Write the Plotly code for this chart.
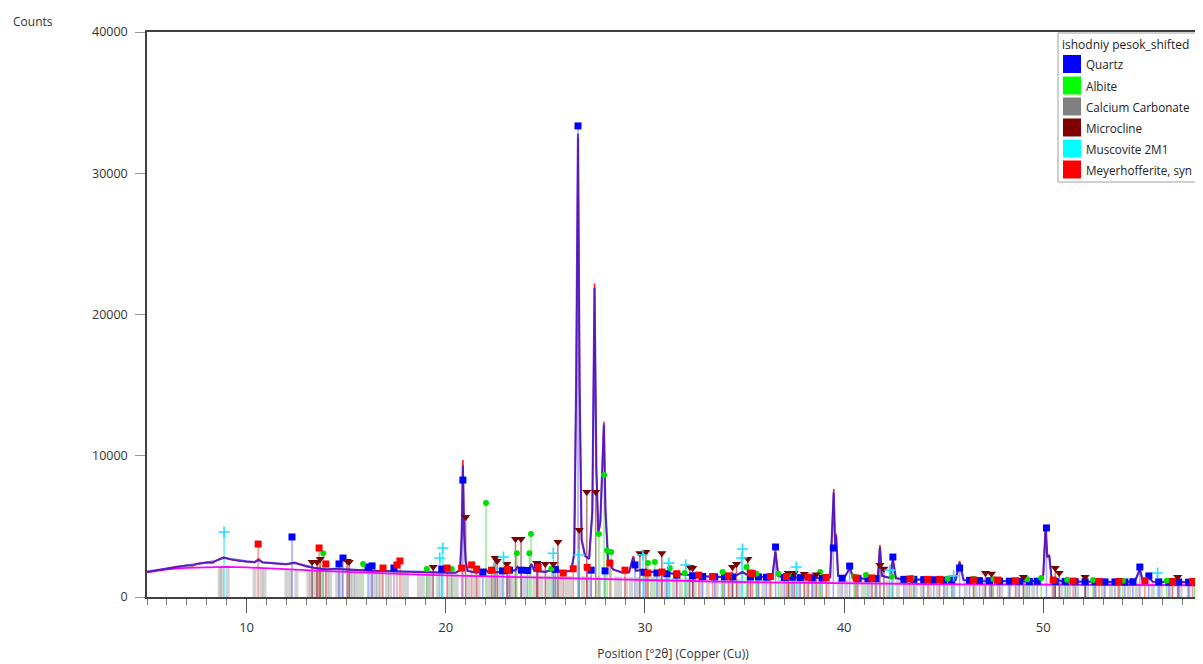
import plotly.graph_objects as go

# ---------------- data ----------------
# measured pattern: (2theta, observed counts, calculated counts)
pattern = [
    (5.0, 1750, 1800), (5.5, 1900, 1900), (6.0, 2000, 2020), (6.5, 2150, 2130),
    (7.0, 2250, 2230), (7.3, 2200, 2280), (7.5, 2350, 2330), (8.0, 2450, 2430),
    (8.3, 2400, 2500), (8.5, 2600, 2580), (8.85, 2800, 2780), (9.2, 2650, 2680),
    (9.6, 2550, 2580), (10.0, 2500, 2520), (10.4, 2450, 2470), (10.6, 2700, 2600),
    (10.8, 2450, 2460), (11.2, 2400, 2420), (11.6, 2350, 2370), (12.0, 2300, 2330),
    (12.4, 2450, 2420), (12.7, 2300, 2320), (13.0, 2150, 2180), (13.4, 2050, 2060),
    (13.7, 2000, 2010), (14.0, 1950, 1960), (14.4, 2000, 1990), (14.8, 1950, 1960),
    (15.2, 1900, 1910), (15.6, 1900, 1890), (16.0, 1880, 1870), (16.5, 1850, 1850),
    (17.0, 1820, 1830), (17.5, 1800, 1810), (18.0, 1780, 1780), (18.5, 1760, 1760),
    (19.0, 1740, 1740), (19.5, 1720, 1720), (20.0, 1700, 1700), (20.5, 1720, 1720),
    (20.72, 1900, 1900), (20.8, 4500, 4300), (20.86, 9700, 9300), (20.92, 4800, 4600),
    (21.0, 2600, 2500), (21.1, 1850, 1850), (21.5, 1720, 1720), (21.9, 1800, 1780),
    (22.02, 1950, 1900), (22.15, 1720, 1720), (22.6, 1760, 1760), (23.0, 1800, 1790),
    (23.5, 1900, 1880), (23.6, 2150, 2100), (23.75, 1950, 1950), (24.0, 1850, 1850),
    (24.2, 2050, 2000), (24.3, 2350, 2300), (24.45, 1850, 1850), (25.0, 1780, 1780),
    (25.6, 2050, 2000), (25.75, 1750, 1750), (26.3, 1850, 1850), (26.45, 3000, 3100),
    (26.55, 15000, 15500), (26.64, 32500, 32800), (26.72, 15000, 15200), (26.82, 4000, 4100),
    (27.0, 2900, 2900), (27.2, 2700, 2700), (27.36, 6000, 6100), (27.47, 22200, 21900),
    (27.56, 9000, 9200), (27.66, 4500, 4600), (27.76, 5200, 5300), (27.86, 9000, 9200),
    (27.94, 12400, 12200), (28.02, 6000, 6200), (28.15, 2600, 2600), (28.4, 1950, 1950),
    (28.8, 1750, 1760), (29.2, 1750, 1750), (29.42, 2900, 2800), (29.55, 1850, 1850),
    (29.9, 1950, 1900), (30.2, 1800, 1800), (30.6, 1750, 1740), (31.0, 1700, 1700),
    (31.4, 1650, 1650), (32.0, 1580, 1580), (32.5, 1520, 1520), (33.0, 1450, 1460),
    (33.5, 1420, 1420), (34.0, 1420, 1420), (34.5, 1480, 1470), (34.9, 1800, 1750),
    (35.1, 1600, 1600), (35.5, 1480, 1480), (36.0, 1400, 1400), (36.4, 1420, 1420),
    (36.55, 3300, 3200), (36.7, 1480, 1480), (37.0, 1380, 1380), (37.5, 1380, 1380),
    (38.0, 1350, 1350), (38.5, 1340, 1340), (39.0, 1330, 1330), (39.3, 1400, 1400),
    (39.42, 5500, 5400), (39.48, 7650, 7400), (39.55, 3500, 3600), (39.6, 4500, 4300),
    (39.7, 1500, 1500), (40.0, 1350, 1350), (40.3, 2100, 2050), (40.45, 1350, 1350),
    (41.0, 1300, 1300), (41.5, 1300, 1300), (41.7, 1500, 1480), (41.8, 3680, 3500),
    (41.9, 1500, 1500), (42.3, 1350, 1350), (42.45, 2700, 2650), (42.6, 1330, 1330),
    (43.0, 1250, 1250), (44.0, 1220, 1220), (45.0, 1180, 1180), (45.6, 1200, 1200),
    (45.8, 2550, 2450), (46.0, 1200, 1200), (47.0, 1150, 1150), (48.0, 1120, 1120),
    (49.0, 1100, 1100), (49.8, 1150, 1150), (50.0, 1600, 1550), (50.12, 5100, 4900),
    (50.2, 2800, 2900), (50.3, 3000, 2900), (50.42, 1300, 1300), (51.0, 1100, 1100),
    (52.0, 1080, 1080), (53.0, 1070, 1070), (54.0, 1060, 1060), (54.6, 1100, 1100),
    (54.85, 2000, 1950), (55.0, 1150, 1150), (55.3, 1400, 1380), (55.5, 1080, 1080),
    (56.0, 1060, 1060), (57.0, 1050, 1050), (58.0, 1040, 1040),
]

# fitted background: (2theta, counts)
background = [
    (5.0, 1750), (6.0, 1950), (7.0, 2060), (8.0, 2120), (9.0, 2130), (10.0, 2100),
    (11.0, 2050), (12.0, 1980), (13.0, 1900), (14.0, 1830), (15.0, 1770), (16.0, 1710),
    (17.0, 1660), (18.0, 1610), (19.0, 1570), (20.0, 1530), (22.0, 1460), (24.0, 1410),
    (26.0, 1360), (28.0, 1300), (30.0, 1230), (32.0, 1160), (34.0, 1080), (36.0, 1030),
    (38.0, 990), (40.0, 960), (42.0, 940), (44.0, 920), (46.0, 900), (48.0, 885),
    (50.0, 870), (52.0, 860), (54.0, 850), (56.0, 840), (58.0, 830),
]

# reference-pattern sticks: (2theta, marker height in counts)
quartz = [
    (12.28, 4250), (14.64, 2340), (14.84, 2760), (16.10, 2120), (16.30, 2200), (17.40, 2050),
    (19.80, 1980), (20.86, 8280), (21.86, 1770), (22.85, 1850), (23.20, 1900), (23.80, 1900),
    (24.10, 1880), (24.60, 2270), (25.50, 1950), (26.64, 33350), (27.30, 1900), (28.00, 1850),
    (29.50, 2270), (29.95, 1750), (30.60, 1700), (31.10, 1650), (31.60, 1550), (32.40, 1500),
    (32.90, 1450), (33.50, 1430), (34.00, 1430), (34.40, 1420), (35.30, 1420), (35.70, 1420),
    (36.10, 1400), (36.56, 3540), (37.00, 1380), (37.40, 1400), (37.80, 1370), (38.40, 1350),
    (38.90, 1340), (39.46, 3470), (39.90, 1330), (40.28, 2190), (40.70, 1300), (41.20, 1300),
    (41.60, 1300), (42.45, 2830), (43.00, 1250), (43.50, 1250), (44.00, 1230), (44.50, 1220),
    (45.00, 1200), (45.40, 1200), (45.80, 2050), (46.30, 1180), (46.80, 1160), (47.30, 1150),
    (47.80, 1130), (48.30, 1120), (48.80, 1110), (49.30, 1100), (49.70, 1120), (50.16, 4890),
    (50.60, 1100), (51.10, 1100), (51.60, 1090), (52.10, 1080), (52.60, 1080), (53.10, 1070),
    (53.60, 1070), (54.10, 1060), (54.50, 1080), (54.85, 2120), (55.30, 1490), (55.80, 1070),
    (56.30, 1060), (56.80, 1060), (57.30, 1050), (57.70, 1050),
]
albite = [
    (13.85, 3100), (15.85, 2340), (19.05, 1980), (20.30, 1980), (22.02, 6650), (23.57, 3100),
    (24.20, 3100), (24.28, 4460), (25.30, 2000), (27.69, 4460), (27.95, 8640), (28.10, 3300),
    (28.30, 3190), (30.15, 2400), (30.50, 2480), (31.25, 2050), (32.00, 1700), (33.90, 1770),
    (35.10, 2120), (35.60, 1650), (36.70, 1650), (37.20, 1600), (38.80, 1770), (40.50, 1450),
    (41.10, 1560), (42.40, 1450), (43.40, 1350), (45.20, 1300), (46.50, 1300), (47.50, 1250),
    (49.20, 1250), (49.90, 1350), (51.20, 1220), (52.50, 1200), (54.00, 1150), (56.20, 1150),
    (57.60, 1150),
]
carbonate = [
    (8.65, 2050), (8.75, 2100), (9.05, 2100), (10.40, 2050), (10.75, 2050), (10.90, 2000),
    (12.00, 2000), (12.20, 1950), (12.50, 1950), (13.10, 1900), (13.25, 1900), (13.45, 1900),
    (13.60, 1880), (13.80, 1880), (14.05, 1850), (14.20, 1850), (14.55, 1830), (14.75, 1830),
    (15.20, 1800), (15.35, 1800), (15.50, 1780), (15.70, 1780), (16.25, 1750), (16.45, 1750),
    (16.60, 1740), (16.75, 1740), (17.05, 1720), (17.20, 1720), (17.85, 1700), (18.05, 1700),
    (18.65, 1680), (18.85, 1680), (19.10, 1660), (19.25, 1660), (19.60, 1650), (20.15, 1640),
    (20.35, 1630), (20.55, 1620), (21.15, 1600), (21.45, 1600), (21.65, 1590), (22.15, 1580),
    (22.35, 1570), (22.70, 1560), (23.20, 1550), (23.35, 1550), (23.95, 1540), (24.45, 1530),
    (24.80, 1520), (25.15, 1510), (25.50, 1500), (25.75, 1500), (26.05, 1490), (26.25, 1490),
    (26.90, 1480), (27.25, 1470), (27.70, 1460), (28.55, 1450), (28.75, 1440), (29.05, 1430),
    (29.30, 1420), (29.65, 1410), (30.35, 1400), (30.70, 1390), (31.05, 1380), (31.45, 1370),
    (31.80, 1360), (32.15, 1350), (32.50, 1340), (32.80, 1330), (33.15, 1320), (33.60, 1310),
    (33.90, 1300), (34.25, 1300), (34.70, 1290), (35.65, 1280), (35.95, 1270), (36.30, 1260),
    (36.85, 1250), (37.30, 1250), (37.70, 1240), (38.15, 1230), (38.45, 1230), (38.75, 1220),
    (39.20, 1220), (39.75, 1210), (40.10, 1200), (40.60, 1200), (40.95, 1190), (41.35, 1190),
    (41.60, 1180), (42.20, 1180), (42.70, 1170), (43.15, 1170), (43.60, 1160), (43.90, 1160),
    (44.30, 1150), (44.70, 1150), (45.10, 1140), (45.50, 1140), (46.10, 1130), (46.60, 1130),
    (47.00, 1120), (47.40, 1120), (47.90, 1110), (48.30, 1110), (48.70, 1100), (49.10, 1100),
    (49.50, 1090), (50.50, 1090), (50.90, 1080), (51.30, 1080), (51.70, 1070), (52.20, 1070),
    (52.60, 1060), (53.00, 1060), (53.40, 1050), (53.80, 1050), (54.30, 1040), (54.70, 1040),
    (55.50, 1030), (55.90, 1030), (56.40, 1020), (56.90, 1020), (57.30, 1010), (57.70, 1010),
]
microcline = [
    (13.29, 2480), (13.54, 2480), (13.70, 2690), (15.05, 2550), (15.15, 2480), (19.37, 2120),
    (21.00, 5660), (22.48, 2760), (22.58, 2550), (23.07, 2340), (23.50, 4100), (23.78, 4100),
    (24.57, 2400), (25.00, 2340), (25.40, 2340), (25.63, 3890), (26.70, 4740), (27.08, 7430),
    (27.53, 7430), (29.75, 3100), (30.05, 3190), (30.85, 3100), (32.25, 2120), (32.40, 2050),
    (34.40, 2120), (34.60, 2340), (35.17, 2690), (37.20, 1700), (37.50, 1700), (38.00, 1630),
    (38.60, 1600), (41.80, 2260), (42.00, 2000), (47.10, 1700), (47.40, 1650), (49.00, 1420),
    (50.60, 2050), (50.80, 1700), (52.10, 1420), (56.75, 1420),
]
muscovite = [
    (8.87, 4600), (19.70, 2760), (19.85, 3470), (22.40, 2050), (22.90, 2830), (25.40, 3100),
    (26.70, 2970), (29.90, 2970), (31.20, 2400), (32.05, 2270), (34.85, 2760), (34.90, 3400),
    (37.60, 2120), (42.30, 1900), (45.50, 1500), (55.74, 1700),
]
meyerhofferite = [
    (10.58, 3750), (13.64, 3470), (13.98, 2340), (16.85, 2050), (17.55, 2270), (17.70, 2550),
    (20.07, 2050), (20.80, 2050), (21.30, 2270), (21.55, 1980), (22.30, 1900), (23.10, 1950),
    (24.64, 2100), (25.90, 1700), (26.40, 2000), (27.10, 2100), (28.24, 2400), (29.00, 1900),
    (30.15, 1700), (30.85, 1770), (31.60, 1650), (32.70, 1550), (33.40, 1450), (34.20, 1500),
    (35.30, 1700), (35.40, 1650), (36.30, 1450), (37.10, 1450), (38.20, 1400), (39.10, 1380),
    (40.60, 1350), (41.40, 1350), (43.30, 1280), (44.20, 1250), (44.80, 1250), (46.50, 1200),
    (47.70, 1200), (48.60, 1150), (50.50, 1200), (51.50, 1130), (52.80, 1100), (53.80, 1100),
    (55.10, 1150), (56.50, 1100), (57.50, 1100),
]

legend_title = "ishodniy pesok_shifted"
phase_names = ["Quartz", "Albite", "Calcium Carbonate", "Microcline", "Muscovite 2M1",
               "Meyerhofferite, syn"]
phase_colors = ["#0000ff", "#00ff00", "#808080", "#800000", "#00ffff", "#ff0000"]

x_ticks = [10, 20, 30, 40, 50]
y_ticks = [0, 10000, 20000, 30000, 40000]

# ---------------- figure ----------------
# the page body has an 8px margin, so the figure is sized to end at the window edge
OFF = 8
W, H = 1203 - OFF, 664 - OFF
PL, PR, PT, PB = 147, 1199, 32, 597          # plot-area edges in window pixels
L, T = PL - OFF, PT - OFF
R, B = W - (PR - OFF), H - (PB - OFF)
PW, PH = PR - PL, PB - PT


def xp(px):
    return (px - PL) / PW


def yp(py):
    return (PB - py) / PH


def sticks(peaks):
    xs, ys = [], []
    for p, h in peaks:
        xs += [p, p, None]
        ys += [0, h, None]
    return xs, ys


fig = go.Figure()

# grey (calcium carbonate) sticks
gx, gy = sticks(carbonate)
fig.add_trace(go.Scatter(x=gx, y=gy, mode="lines", showlegend=False, hoverinfo="skip",
                         line=dict(color="rgba(165,165,165,0.5)", width=4)))

phases = [
    (quartz, "rgba(40,40,255,0.4)", dict(symbol="square", size=7, color="#0000ff")),
    (albite, "rgba(0,210,0,0.4)", dict(symbol="circle", size=6, color="#00e000")),
    (microcline, "rgba(128,0,0,0.5)", dict(symbol="triangle-down", size=8, color="#7a0000")),
    (muscovite, "rgba(0,220,255,0.55)", dict(symbol="cross-thin", size=8, color="#00e8ff",
                                             line=dict(width=1.6, color="#20e0ff"))),
    (meyerhofferite, "rgba(255,0,0,0.4)", dict(symbol="square", size=7, color="#ff0000")),
]

for peaks, scol, _ in phases:
    sx, sy = sticks(peaks)
    fig.add_trace(go.Scatter(x=sx, y=sy, mode="lines", showlegend=False, hoverinfo="skip",
                             line=dict(color=scol, width=1.6)))

# background, observed and calculated profiles
fig.add_trace(go.Scatter(x=[p[0] for p in background], y=[p[1] for p in background],
                         mode="lines", showlegend=False, line=dict(color="#ff00ff", width=1.8)))
fig.add_trace(go.Scatter(x=[p[0] for p in pattern], y=[p[1] for p in pattern],
                         mode="lines", showlegend=False, line=dict(color="#ff2020", width=1.6)))
fig.add_trace(go.Scatter(x=[p[0] for p in pattern], y=[p[2] for p in pattern],
                         mode="lines", showlegend=False,
                         line=dict(color="rgba(30,20,240,0.72)", width=2.2)))

# markers on top
for peaks, _, mk in phases:
    fig.add_trace(go.Scatter(x=[p[0] for p in peaks], y=[p[1] for p in peaks],
                             mode="markers", showlegend=False, marker=mk))

# hand-built legend box in the top-right corner
shapes = [dict(type="rect", xref="paper", yref="paper", x0=xp(1058), x1=xp(1300),
               y0=yp(182), y1=yp(33), fillcolor="white",
               line=dict(color="#a0a0a0", width=1), layer="above")]
annotations = [dict(text=legend_title, xref="paper", yref="paper", x=xp(1060), y=yp(44),
                    xanchor="left", yanchor="middle", showarrow=False,
                    font=dict(size=12, color="#222", family="Open Sans"))]
row_y = [64, 85.5, 106.5, 127.5, 148.5, 169.5]
for name, col, cy in zip(phase_names, phase_colors, row_y):
    shapes.append(dict(type="rect", xref="paper", yref="paper", x0=xp(1063), x1=xp(1081),
                       y0=yp(cy + 9), y1=yp(cy - 9), fillcolor=col, line=dict(width=0),
                       layer="above"))
    annotations.append(dict(text=name, xref="paper", yref="paper", x=xp(1084), y=yp(cy),
                            xanchor="left", yanchor="middle", showarrow=False,
                            font=dict(size=11.7, color="#222", family="Open Sans")))

annotations.append(dict(text="Counts", xref="paper", yref="paper", x=xp(11), y=yp(21),
                        xanchor="left", yanchor="middle", showarrow=False,
                        font=dict(size=12, color="#333", family="Open Sans")))

fig.update_layout(
    width=W, height=H,
    margin=dict(l=L, r=R, t=T, b=B, autoexpand=False),
    paper_bgcolor="white", plot_bgcolor="white",
    font=dict(family="Open Sans", size=12, color="#333"),
    shapes=shapes, annotations=annotations,
    showlegend=False,
)
fig.update_xaxes(
    range=[5.0, 57.82], showgrid=False, zeroline=False,
    showline=True, linecolor="#404040", linewidth=1.5, mirror=True,
    tickmode="array", tickvals=x_ticks, ticktext=[str(v) for v in x_ticks],
    ticks="outside", ticklen=14, tickcolor="#555", tickwidth=1.2, ticklabelstandoff=4,
    minor=dict(dtick=1, tick0=0, ticks="outside", ticklen=6, tickcolor="#777", tickwidth=1),
    tickfont=dict(size=13, color="#333"),
    title=dict(text="Position [°2θ] (Copper (Cu))", font=dict(size=12, color="#333"), standoff=14),
)
fig.update_yaxes(
    range=[0, 40000], showgrid=False, zeroline=False,
    showline=True, linecolor="#404040", linewidth=1.5, mirror=True,
    tickmode="array", tickvals=y_ticks, ticktext=[str(v) for v in y_ticks],
    ticks="outside", ticklen=10, tickcolor="#999", tickwidth=1.2, ticklabelstandoff=5,
    tickfont=dict(size=12.5, color="#333"),
)

fig.write_html("out.html")
